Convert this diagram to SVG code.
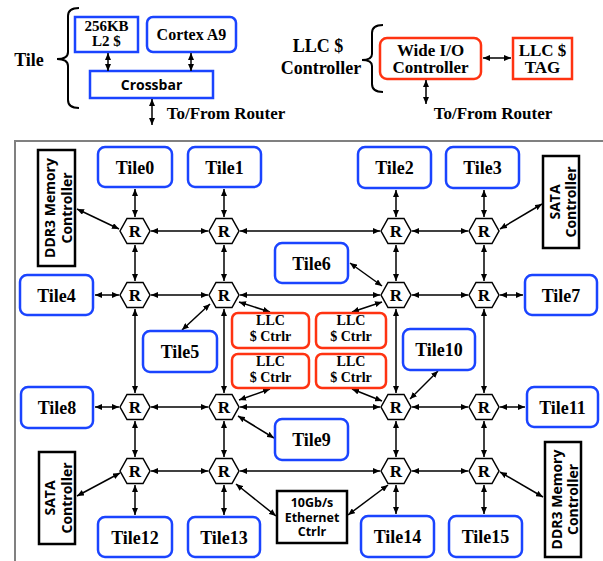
<svg xmlns="http://www.w3.org/2000/svg" width="603" height="561" viewBox="0 0 603 561">
<style>
.tile{fill:#fff;stroke:#1a44ff;stroke-width:2.5}
.llc{fill:#fff;stroke:#ff3311;stroke-width:2.5}
.blk{fill:#fff;stroke:#000;stroke-width:2.5}
.hex{fill:#fff;stroke:#000;stroke-width:1.5}
.ser{font-family:"Liberation Serif","Times New Roman",serif;font-weight:bold;fill:#000;text-anchor:middle}
.san{font-family:"Open Sans","Liberation Sans",Arial,sans-serif;font-weight:bold;fill:#000;text-anchor:middle}
.t18{font-size:18px}
.t17{font-size:17px}
.t16{font-size:16px}
.t15{font-size:15px}
.t14{font-size:14px}
.t12{font-size:12.5px}
.c line{stroke:#000;stroke-width:1.5;marker-start:url(#ah);marker-end:url(#ah)}
.brace{fill:none;stroke:#000;stroke-width:2}
</style>
<defs>
<marker id="ah" markerUnits="userSpaceOnUse" markerWidth="7" markerHeight="6" refX="7" refY="3" orient="auto-start-reverse" viewBox="0 0 7 6">
<path d="M0,0 L7,3 L0,6 z" fill="#000"/>
</marker>
<polygon id="hx" class="hex" points="-15,0 -8,-12.5 8,-12.5 15,0 8,12.5 -8,12.5"/>
</defs>

<rect x="15" y="141" width="600" height="440" fill="none" stroke="#808080" stroke-width="2"/>

<!-- Legend: Tile -->
<g id="legend-tile">
<text class="ser t18" x="29" y="66">Tile</text>
<path class="brace" d="M79,8 Q68,8 68,16 L68,52 Q68,59 57,59 Q68,59 68,66 L68,100 Q68,108 79,108"/>
</g>
<g id="l2">
<rect class="tile" x="75" y="17" width="63" height="35"/>
<text class="ser t15" x="106.5" y="31">256KB</text>
<text class="ser t15" x="106.5" y="46">L2 $</text>
</g>
<g id="cortex">
<rect class="tile" x="147" y="17" width="89" height="35" rx="6"/>
<text class="ser t16" x="191.5" y="40">Cortex A9</text>
</g>
<g id="crossbar">
<rect class="tile" x="90" y="71" width="123" height="27"/>
<text class="san t14" x="151.5" y="90">Crossbar</text>
</g>
<text class="ser t17" x="226" y="119">To/From Router</text>

<!-- Legend: LLC -->
<g id="legend-llc">
<text class="ser t18" x="318" y="52">LLC $</text>
<text class="ser t18" x="321" y="74">Controller</text>
<path class="brace" d="M383,25 Q372,25 372,33 L372,54 Q372,60 362,60 Q372,60 372,66 L372,84 Q372,92 383,92"/>
</g>
<g id="wideio">
<rect class="llc" x="380" y="38" width="101" height="41" rx="7"/>
<text class="ser t17" x="430.5" y="56">Wide I/O</text>
<text class="ser t17" x="430.5" y="73">Controller</text>
</g>
<g id="llctag">
<rect class="llc" x="513" y="38" width="59" height="41"/>
<text class="ser t17" x="542.5" y="56">LLC $</text>
<text class="ser t17" x="542.5" y="73">TAG</text>
</g>
<text class="ser t17" x="493" y="119">To/From Router</text>

<!-- Connectors -->
<g id="connectors" class="c">
<line x1="108" y1="53" x2="108" y2="71"/>
<line x1="191" y1="53" x2="191" y2="71"/>
<line x1="152" y1="99" x2="152" y2="125"/>
<line x1="483" y1="58" x2="511" y2="58"/>
<line x1="426" y1="80" x2="426" y2="104"/>

<line x1="135" y1="189" x2="135" y2="217"/>
<line x1="224" y1="189" x2="224" y2="217"/>
<line x1="396" y1="190" x2="396" y2="217"/>
<line x1="484" y1="190" x2="484" y2="217"/>

<line x1="151" y1="231" x2="208" y2="231"/>
<line x1="240" y1="231" x2="380" y2="231"/>
<line x1="412" y1="231" x2="468" y2="231"/>
<line x1="77" y1="209" x2="119" y2="229"/>
<line x1="500" y1="229" x2="542" y2="204"/>

<line x1="135" y1="245" x2="135" y2="281"/>
<line x1="224" y1="245" x2="224" y2="281"/>
<line x1="396" y1="245" x2="396" y2="281"/>
<line x1="484" y1="245" x2="484" y2="281"/>
<line x1="135" y1="309" x2="135" y2="393"/>
<line x1="224" y1="309" x2="224" y2="393"/>
<line x1="396" y1="309" x2="396" y2="393"/>
<line x1="484" y1="309" x2="484" y2="393"/>
<line x1="135" y1="421" x2="135" y2="457"/>
<line x1="224" y1="421" x2="224" y2="457"/>
<line x1="396" y1="421" x2="396" y2="457"/>
<line x1="484" y1="421" x2="484" y2="457"/>

<line x1="95" y1="295" x2="119" y2="295"/>
<line x1="151" y1="295" x2="208" y2="295"/>
<line x1="240" y1="295" x2="380" y2="295"/>
<line x1="412" y1="295" x2="468" y2="295"/>
<line x1="500" y1="295" x2="523" y2="295"/>
<line x1="182" y1="330" x2="210" y2="304"/>
<line x1="239" y1="302" x2="270" y2="312"/>
<line x1="350" y1="263" x2="382" y2="286"/>
<line x1="382" y1="302" x2="352" y2="312"/>

<line x1="95" y1="407" x2="119" y2="407"/>
<line x1="151" y1="407" x2="208" y2="407"/>
<line x1="240" y1="407" x2="380" y2="407"/>
<line x1="412" y1="407" x2="468" y2="407"/>
<line x1="500" y1="407" x2="525" y2="407"/>
<line x1="270" y1="389" x2="239" y2="400"/>
<line x1="352" y1="389" x2="382" y2="401"/>
<line x1="438" y1="371" x2="410" y2="399"/>
<line x1="238" y1="416" x2="274" y2="438"/>

<line x1="151" y1="471" x2="208" y2="471"/>
<line x1="240" y1="471" x2="380" y2="471"/>
<line x1="412" y1="471" x2="468" y2="471"/>
<line x1="77" y1="496" x2="120" y2="473"/>
<line x1="135" y1="485" x2="135" y2="515"/>
<line x1="224" y1="485" x2="224" y2="515"/>
<line x1="396" y1="485" x2="396" y2="514"/>
<line x1="484" y1="485" x2="484" y2="514"/>
<line x1="236" y1="484" x2="276" y2="516"/>
<line x1="348" y1="515" x2="388" y2="485"/>
<line x1="500" y1="472" x2="543" y2="497"/>
</g>

<!-- Routers -->
<g id="r0"><use href="#hx" x="135" y="231"/><text class="ser t17" x="135" y="237">R</text></g>
<g id="r1"><use href="#hx" x="224" y="231"/><text class="ser t17" x="224" y="237">R</text></g>
<g id="r2"><use href="#hx" x="396" y="231"/><text class="ser t17" x="396" y="237">R</text></g>
<g id="r3"><use href="#hx" x="484" y="231"/><text class="ser t17" x="484" y="237">R</text></g>
<g id="r4"><use href="#hx" x="135" y="295"/><text class="ser t17" x="135" y="301">R</text></g>
<g id="r5"><use href="#hx" x="224" y="295"/><text class="ser t17" x="224" y="301">R</text></g>
<g id="r6"><use href="#hx" x="396" y="295"/><text class="ser t17" x="396" y="301">R</text></g>
<g id="r7"><use href="#hx" x="484" y="295"/><text class="ser t17" x="484" y="301">R</text></g>
<g id="r8"><use href="#hx" x="135" y="407"/><text class="ser t17" x="135" y="413">R</text></g>
<g id="r9"><use href="#hx" x="224" y="407"/><text class="ser t17" x="224" y="413">R</text></g>
<g id="r10"><use href="#hx" x="396" y="407"/><text class="ser t17" x="396" y="413">R</text></g>
<g id="r11"><use href="#hx" x="484" y="407"/><text class="ser t17" x="484" y="413">R</text></g>
<g id="r12"><use href="#hx" x="135" y="471"/><text class="ser t17" x="135" y="477">R</text></g>
<g id="r13"><use href="#hx" x="224" y="471"/><text class="ser t17" x="224" y="477">R</text></g>
<g id="r14"><use href="#hx" x="396" y="471"/><text class="ser t17" x="396" y="477">R</text></g>
<g id="r15"><use href="#hx" x="484" y="471"/><text class="ser t17" x="484" y="477">R</text></g>

<!-- Tiles -->
<g id="tile0"><rect class="tile" x="98" y="147" width="74" height="40" rx="7"/><text class="ser t18" x="135" y="173.5">Tile0</text></g>
<g id="tile1"><rect class="tile" x="188" y="147" width="73" height="40" rx="7"/><text class="ser t18" x="224.5" y="173.5">Tile1</text></g>
<g id="tile2"><rect class="tile" x="358" y="147" width="73" height="41" rx="7"/><text class="ser t18" x="394.5" y="174">Tile2</text></g>
<g id="tile3"><rect class="tile" x="446" y="147" width="73" height="41" rx="7"/><text class="ser t18" x="482.5" y="174">Tile3</text></g>
<g id="tile4"><rect class="tile" x="20" y="275" width="73" height="40" rx="7"/><text class="ser t18" x="56.5" y="301.5">Tile4</text></g>
<g id="tile5"><rect class="tile" x="143" y="331" width="74" height="41" rx="7"/><text class="ser t18" x="180" y="358">Tile5</text></g>
<g id="tile6"><rect class="tile" x="275" y="243" width="73" height="40" rx="7"/><text class="ser t18" x="311.5" y="269.5">Tile6</text></g>
<g id="tile7"><rect class="tile" x="525" y="275" width="72" height="40" rx="7"/><text class="ser t18" x="561" y="301.5">Tile7</text></g>
<g id="tile8"><rect class="tile" x="21" y="387" width="72" height="41" rx="7"/><text class="ser t18" x="57" y="414">Tile8</text></g>
<g id="tile9"><rect class="tile" x="275" y="419" width="73" height="41" rx="7"/><text class="ser t18" x="311.5" y="446">Tile9</text></g>
<g id="tile10"><rect class="tile" x="403" y="329" width="72" height="41" rx="7"/><text class="ser t18" x="439" y="356">Tile10</text></g>
<g id="tile11"><rect class="tile" x="527" y="387" width="71" height="40" rx="7"/><text class="ser t18" x="562.5" y="413.5">Tile11</text></g>
<g id="tile12"><rect class="tile" x="98" y="517" width="74" height="40" rx="7"/><text class="ser t18" x="135" y="543.5">Tile12</text></g>
<g id="tile13"><rect class="tile" x="188" y="517" width="72" height="40" rx="7"/><text class="ser t18" x="224" y="543.5">Tile13</text></g>
<g id="tile14"><rect class="tile" x="361" y="516" width="73" height="41" rx="7"/><text class="ser t18" x="397.5" y="543">Tile14</text></g>
<g id="tile15"><rect class="tile" x="449" y="516" width="73" height="41" rx="7"/><text class="ser t18" x="485.5" y="543">Tile15</text></g>

<!-- LLC controllers -->
<g id="llc0"><rect class="llc" x="232" y="313" width="77" height="35" rx="6"/><text class="ser t14" x="270.5" y="325">LLC</text><text class="ser t14" x="270.5" y="341">$ Ctrlr</text></g>
<g id="llc1"><rect class="llc" x="316" y="313" width="70" height="35" rx="6"/><text class="ser t14" x="351" y="325">LLC</text><text class="ser t14" x="351" y="341">$ Ctrlr</text></g>
<g id="llc2"><rect class="llc" x="232" y="354" width="77" height="34" rx="6"/><text class="ser t14" x="270.5" y="366">LLC</text><text class="ser t14" x="270.5" y="382">$ Ctrlr</text></g>
<g id="llc3"><rect class="llc" x="316" y="354" width="70" height="34" rx="6"/><text class="ser t14" x="351" y="366">LLC</text><text class="ser t14" x="351" y="382">$ Ctrlr</text></g>

<!-- Peripheral controllers -->
<g id="ddr3-tl"><rect class="blk" x="38" y="150" width="37" height="116"/>
<g transform="translate(56.5,208) rotate(-90)"><text class="san t14" x="0" y="-1.5">DDR3 Memory</text><text class="san t14" x="0" y="15">Controller</text></g></g>
<g id="sata-tr"><rect class="blk" x="543" y="156" width="36" height="92"/>
<g transform="translate(561,202) rotate(-90)"><text class="san t14" x="0" y="-1">SATA</text><text class="san t14" x="0" y="15">Controller</text></g></g>
<g id="sata-bl"><rect class="blk" x="39" y="452" width="36" height="92"/>
<g transform="translate(57,498) rotate(-90)"><text class="san t14" x="0" y="-2">SATA</text><text class="san t14" x="0" y="14.5">Controller</text></g></g>
<g id="ddr3-br"><rect class="blk" x="545" y="442" width="36" height="115"/>
<g transform="translate(563,499.5) rotate(-90)"><text class="san t14" x="0" y="-1.5">DDR3 Memory</text><text class="san t14" x="0" y="14.5">Controller</text></g></g>
<g id="ethernet"><rect class="blk" x="277" y="491" width="70" height="52"/>
<text class="san t12" x="312" y="507">10Gb/s</text><text class="san t12" x="312" y="521.5">Ethernet</text><text class="san t12" x="312" y="536">Ctrlr</text></g>
</svg>
